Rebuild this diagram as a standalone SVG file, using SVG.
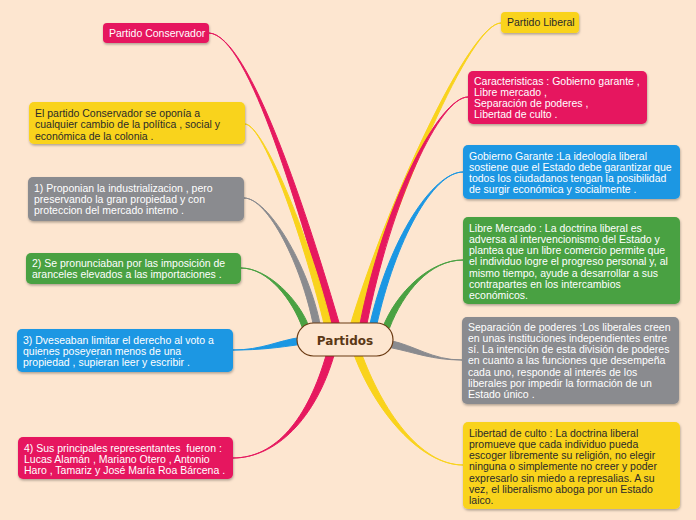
<svg xmlns="http://www.w3.org/2000/svg" width="696" height="520" viewBox="0 0 696 520">
<style>
.bg{fill:#fde6d0}
.pink{fill:#e6195f}
.yellow{fill:#f9d31c}
.blue{fill:#1b97e3}
.green{fill:#4aa142}
.gray{fill:#8a8b8f}
.box{filter:url(#sh)}
.cp{stroke:#e6195f;stroke-width:1}
.cy{stroke:#f9d31c;stroke-width:1}
.cb{stroke:#1b97e3;stroke-width:1}
.cg{stroke:#4aa142;stroke-width:1}
.cgr{stroke:#8a8b8f;stroke-width:1}
text{font-family:"Liberation Sans",Arial,sans-serif;font-size:10.5px;white-space:pre}
.tw{fill:#ffffff}
.td{fill:#2a2a2a}
.center{font-family:"DejaVu Sans","Liberation Sans",sans-serif;font-size:12px;font-weight:bold;fill:#5b3815}
</style>
<defs>
<filter id="sh" x="-10%" y="-10%" width="120%" height="130%">
<feDropShadow dx="0.5" dy="1.5" stdDeviation="0.8" flood-color="#000" flood-opacity="0.3"/>
</filter>
</defs>
<rect class="bg" x="0" y="0" width="696" height="520"/>
<g id="connectors">
<path class="pink cp" d="M209,33 C250,35 301,220 332,326 L340,326 C309,220 250,35 209,33Z"/>
<path class="yellow cy" d="M245,124 C265,125 306.5,250 324.5,326 L331.5,326 C313.5,250 265,125 245,124Z"/>
<path class="gray cgr" d="M244,198 C268,198 301.5,265 313.5,326 L320.5,326 C308.5,265 268,198 244,198Z"/>
<path class="green cg" d="M241,268 C268,268 292.5,300 302.5,328 L309.5,328 C299.5,300 268,268 241,268Z"/>
<path class="blue cb" d="M233,350 C262,350 278,340.5 300,337.5 L300,344.5 C278,347.5 262,350 233,350Z"/>
<path class="pink cp" d="M233,458 C275,458 308,420 327,352 L335,352 C316,420 275,458 233,458Z"/>
<path class="yellow cy" d="M501,23 C470,23 388,200 350,326 L358,326 C396,200 470,23 501,23Z"/>
<path class="pink cp" d="M468,97 C440,97 384.5,200 359.5,326 L366.5,326 C391.5,200 440,97 468,97Z"/>
<path class="blue cb" d="M463,172 C433,172 388.5,240 369.5,326 L376.5,326 C395.5,240 433,172 463,172Z"/>
<path class="green cg" d="M463,260 C430,260 396.5,292 382.5,328 L389.5,328 C403.5,292 430,260 463,260Z"/>
<path class="gray cgr" d="M462,360 C432,360 415,345.5 390,340.5 L390,347.5 C415,352.5 432,360 462,360Z"/>
<path class="yellow cy" d="M463,465 C420,465 374,410 353,352 L361,352 C382,410 420,465 463,465Z"/>
</g>
<g id="center">
<rect x="297" y="323" width="96" height="33" rx="16.5" fill="#fde6d0" stroke="#6b3a12" stroke-width="1.2"/>
<text class="center" x="345" y="344.5" text-anchor="middle">Partidos</text>
</g>
<g id="partido-conservador">
<rect class="pink box" x="103" y="23" width="106" height="20" rx="4"/>
<text class="tw" x="109" y="36.5">Partido Conservador</text>
</g>
<g id="conservador-oponia">
<rect class="yellow box" x="29" y="102" width="216" height="42" rx="5"/>
<text class="td" x="35" y="117">El partido Conservador se oponía a</text>
<text class="td" x="35" y="128.3">cualquier cambio de la política , social y</text>
<text class="td" x="35" y="139.6">económica de la colonia .</text>
</g>
<g id="c1">
<rect class="gray box" x="28" y="177" width="216" height="44" rx="5"/>
<text class="tw" x="34" y="191.5">1) Proponian la industrializacion , pero</text>
<text class="tw" x="34" y="202.8">preservando la gran propiedad y con</text>
<text class="tw" x="34" y="214.1">proteccion del mercado interno .</text>
</g>
<g id="c2">
<rect class="green box" x="26" y="253" width="215" height="31" rx="5"/>
<text class="tw" x="32" y="266.5">2) Se pronunciaban por las imposición de</text>
<text class="tw" x="32" y="278">aranceles elevados a las importaciones .</text>
</g>
<g id="c3">
<rect class="blue box" x="17" y="329" width="216" height="43" rx="5"/>
<text class="tw" x="23" y="343.5">3) Dveseaban limitar el derecho al voto a</text>
<text class="tw" x="23" y="354.8">quienes poseyeran menos de una</text>
<text class="tw" x="23" y="366.1">propiedad , supieran leer y escribir .</text>
</g>
<g id="c4">
<rect class="pink box" x="18" y="437" width="215" height="42" rx="5"/>
<text class="tw" x="24" y="451.5">4) Sus principales representantes  fueron :</text>
<text class="tw" x="24" y="462.8">Lucas Alamán , Mariano Otero , Antonio</text>
<text class="tw" x="24" y="474.1">Haro , Tamariz y José María Roa Bárcena .</text>
</g>
<g id="partido-liberal">
<rect class="yellow box" x="501" y="12" width="78" height="21" rx="4"/>
<text class="td" x="507" y="26">Partido Liberal</text>
</g>
<g id="caracteristicas">
<rect class="pink box" x="468" y="71" width="179" height="53" rx="5"/>
<text class="tw" x="474" y="84.5">Caracteristicas : Gobierno garante ,</text>
<text class="tw" x="474" y="95.8">Libre mercado ,</text>
<text class="tw" x="474" y="107.1">Separación de poderes ,</text>
<text class="tw" x="474" y="118.4">Libertad de culto .</text>
</g>
<g id="gobierno-garante">
<rect class="blue box" x="463" y="145" width="217" height="54" rx="5"/>
<text class="tw" x="469" y="159.5">Gobierno Garante :La ideología liberal</text>
<text class="tw" x="469" y="170.8">sostiene que el Estado debe garantizar que</text>
<text class="tw" x="469" y="182.1">todos los ciudadanos tengan la posibilidad</text>
<text class="tw" x="469" y="193.4">de surgir económica y socialmente .</text>
</g>
<g id="libre-mercado">
<rect class="green box" x="463" y="217" width="217" height="87" rx="5"/>
<text class="tw" x="469" y="231.5">Libre Mercado : La doctrina liberal es</text>
<text class="tw" x="469" y="242.8">adversa al intervencionismo del Estado y</text>
<text class="tw" x="469" y="254.1">plantea que un libre comercio permite que</text>
<text class="tw" x="469" y="265.4">el individuo logre el progreso personal y, al</text>
<text class="tw" x="469" y="276.7">mismo tiempo, ayude a desarrollar a sus</text>
<text class="tw" x="469" y="288">contrapartes en los intercambios</text>
<text class="tw" x="469" y="299.3">económicos.</text>
</g>
<g id="separacion">
<rect class="gray box" x="462" y="317" width="217" height="87" rx="5"/>
<text class="tw" x="468" y="330.5">Separación de poderes :Los liberales creen</text>
<text class="tw" x="468" y="341.8">en unas instituciones independientes entre</text>
<text class="tw" x="468" y="353.1">sí. La intención de esta división de poderes</text>
<text class="tw" x="468" y="364.4">en cuanto a las funciones que desempeña</text>
<text class="tw" x="468" y="375.7">cada uno, responde al interés de los</text>
<text class="tw" x="468" y="387">liberales por impedir la formación de un</text>
<text class="tw" x="468" y="398.3">Estado único .</text>
</g>
<g id="libertad-culto">
<rect class="yellow box" x="463" y="422" width="217" height="87" rx="5"/>
<text class="td" x="469" y="436.5">Libertad de culto : La doctrina liberal</text>
<text class="td" x="469" y="447.8">promueve que cada individuo pueda</text>
<text class="td" x="469" y="459.1">escoger libremente su religión, no elegir</text>
<text class="td" x="469" y="470.4">ninguna o simplemente no creer y poder</text>
<text class="td" x="469" y="481.7">expresarlo sin miedo a represalias. A su</text>
<text class="td" x="469" y="493">vez, el liberalismo aboga por un Estado</text>
<text class="td" x="469" y="504.3">laico.</text>
</g>
</svg>
